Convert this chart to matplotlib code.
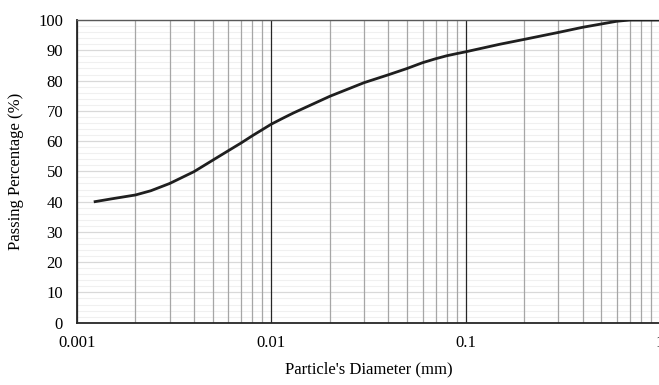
import matplotlib.pyplot as plt
from matplotlib.ticker import FixedLocator, LogLocator, NullFormatter, FixedFormatter

# Grain size distribution
diameter_mm = [0.00124, 0.0015, 0.002, 0.0024, 0.003, 0.004, 0.005, 0.006, 0.007,
               0.008, 0.009, 0.01, 0.0115, 0.013, 0.02, 0.03, 0.04, 0.05, 0.06, 0.07,
               0.08, 0.09, 0.1, 0.15, 0.2, 0.3, 0.4, 0.5, 0.6, 0.7, 0.85, 1.0]
passing_pct = [40.0, 40.9, 42.2, 43.6, 46.0, 49.9, 53.7, 56.8, 59.4,
               61.8, 63.8, 65.6, 67.6, 69.3, 74.8, 79.3, 81.9, 84.0, 85.9, 87.2,
               88.2, 88.9, 89.5, 92.0, 93.6, 95.9, 97.6, 98.7, 99.6, 100.0, 100.0, 100.0]

x_ticks = [0.001, 0.01, 0.1, 1]
x_tick_labels = ["0.001", "0.01", "0.1", "1"]
y_ticks = list(range(0, 101, 10))

plt.rcParams["font.family"] = ["Liberation Serif", "DejaVu Serif"]

fig = plt.figure(figsize=(6.59, 3.85), dpi=100)
ax = fig.add_axes([0.1168, 0.1618, 0.8847, 0.7862])

ax.set_xscale("log")
ax.set_xlim(0.001, 1)
ax.set_ylim(0, 100)

# gridlines
ax.yaxis.set_major_locator(FixedLocator(y_ticks))
ax.yaxis.set_minor_locator(FixedLocator(list(range(0, 101, 2))))
ax.xaxis.set_major_locator(FixedLocator(x_ticks))
ax.xaxis.set_major_formatter(FixedFormatter(x_tick_labels))
ax.xaxis.set_minor_locator(LogLocator(base=10, subs=range(2, 10)))
ax.xaxis.set_minor_formatter(NullFormatter())

ax.grid(True, axis="y", which="minor", color="#f0f0f0", linewidth=0.8, linestyle="-")
ax.grid(True, axis="y", which="major", color="#d9d9d9", linewidth=0.9, linestyle="-")
ax.grid(True, axis="x", which="minor", color="#a6a6a6", linewidth=0.9, linestyle="-")
ax.grid(True, axis="x", which="major", color="#262626", linewidth=0.9, linestyle="-")
ax.set_axisbelow(True)
# vertical gridlines sit above the horizontal ones
ax.yaxis.set_zorder(0.5)
ax.xaxis.set_zorder(0.6)

ax.plot(diameter_mm, passing_pct, color="#1f1f1f", linewidth=2.0, zorder=3)

ax.tick_params(which="both", length=0, labelsize=12, colors="black")
ax.tick_params(axis="x", pad=9)
ax.tick_params(axis="y", pad=10)

for side in ["left", "bottom"]:
    ax.spines[side].set_color("#262626")
    ax.spines[side].set_linewidth(1.3)
ax.spines["top"].set_color("#595959")
ax.spines["top"].set_linewidth(1.0)
ax.spines["right"].set_visible(False)

ax.set_xlabel("Particle's Diameter (mm)", fontsize=12, labelpad=7)
ax.set_ylabel("Passing Percentage (%)", fontsize=12, labelpad=10)

fig.savefig("out.png", dpi=100)
